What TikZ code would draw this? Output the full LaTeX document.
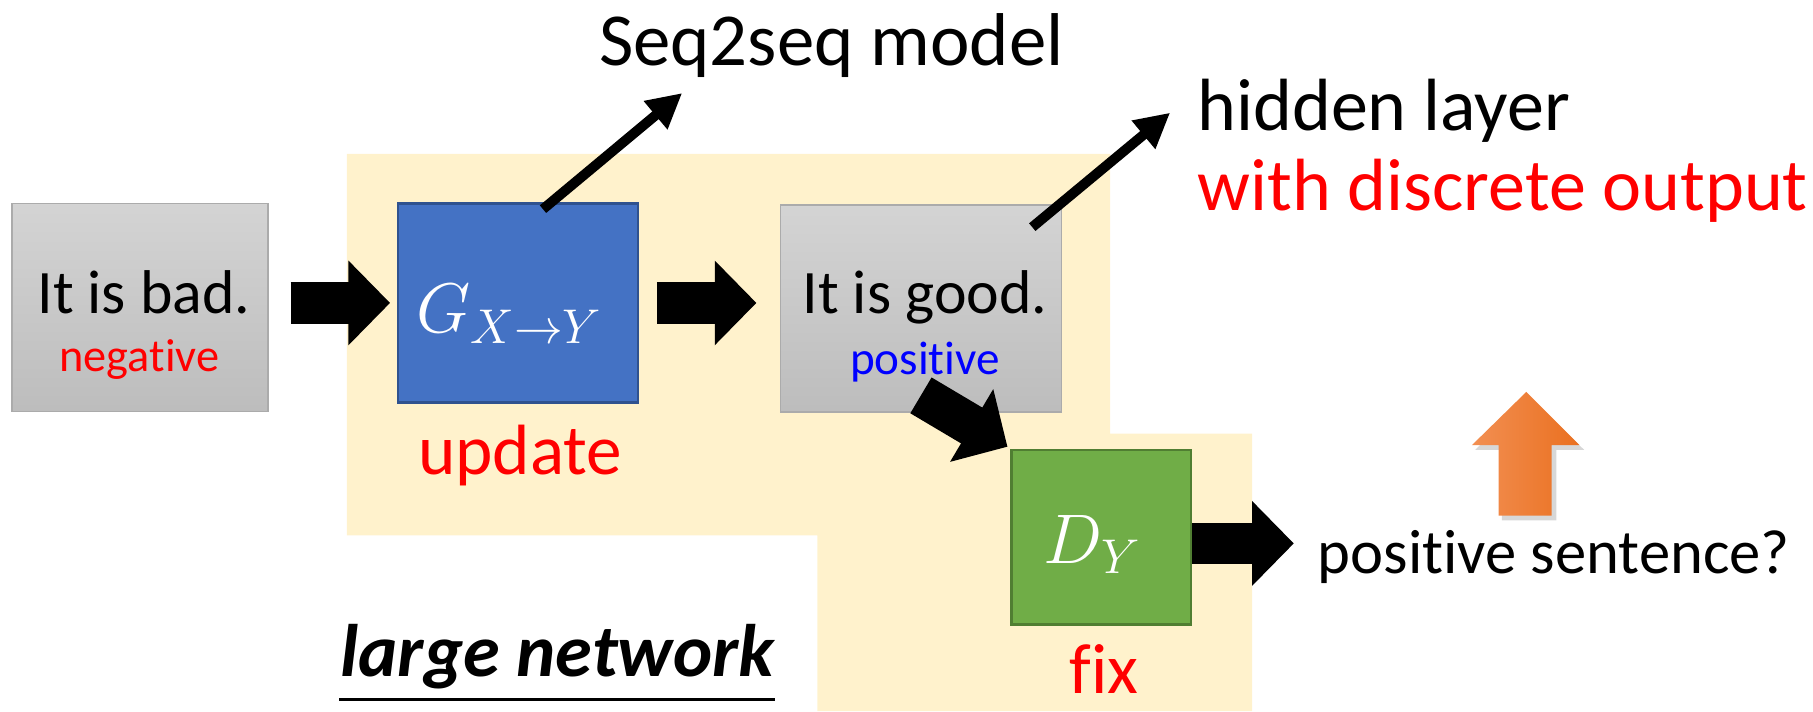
\documentclass[tikz,border=0pt]{standalone}
\usepackage{fontspec}
\setmainfont{Carlito}[Ligatures=NoCommon]
\usetikzlibrary{arrows.meta}

\definecolor{fixyellow}{HTML}{FFF2CC}
\definecolor{genblue}{HTML}{4472C4}
\definecolor{genblueline}{HTML}{2F528F}
\definecolor{disgreen}{HTML}{70AD47}
\definecolor{disgreenline}{HTML}{507E32}
\definecolor{upleft}{HTML}{F28F52}
\definecolor{upright}{HTML}{EA7020}

\begin{document}
\begin{tikzpicture}[x=0.01cm,y=0.01cm,
	txt/.style={inner sep=0,anchor=base},
	sentbox/.style={draw=black!33,top color=black!17,bottom color=black!26,inner sep=0},
	fatarrow/.style={line width=0.36cm,-{Triangle[length=0.36cm,width=0.71cm]}},
	thinarrow/.style={line width=0.086cm,-{Triangle[length=0.30cm,width=0.30cm]}}]
	\useasboundingbox (0,0) rectangle (1568,615);
	% large network region
	\fill[fixyellow] (300,482) -- (960,482) -- (960,240) -- (1083,240) -- (1083,0) -- (707,0) -- (707,152) -- (300,152) -- cycle;
	
	\node[sentbox,minimum width=2.21cm,minimum height=1.80cm](bad) at (121,349){};
	\node[txt,font=\fontsize{15.2}{18}\selectfont](badtxt) at (124.5,344){It is bad.};
	\node[txt,text=red,font=\fontsize{11.4}{14}\selectfont](badlbl) at (120.4,293.6){negative};
	
	\node[draw=genblueline,line width=0.6pt,fill=genblue,minimum width=2.07cm,minimum height=1.72cm](G) at (448,353){};
	\node[txt,text=white,font=\fontsize{17.5}{20}\selectfont](Gtxt) at (441,327){$G_{X\rightarrow Y}$};
	\node[txt,text=red,font=\fontsize{17.5}{21}\selectfont](upd) at (450,205){update};
	
	\node[sentbox,minimum width=2.43cm,minimum height=1.79cm](good) at (796.5,348.3){};
	\node[txt,font=\fontsize{15.2}{18}\selectfont](goodtxt) at (800,344){It is good.};
	\node[txt,text=blue,font=\fontsize{11.6}{14}\selectfont](goodlbl) at (800,291){positive};
	
	\node[draw=disgreenline,line width=0.6pt,fill=disgreen,minimum width=1.55cm,minimum height=1.51cm](D) at (952.5,150.5){};
	\node[txt,text=white,font=\fontsize{17.5}{20}\selectfont](Dtxt) at (945,128){$D_Y$};
	\node[txt,text=red,font=\fontsize{17.5}{21}\selectfont](fix) at (955,15){fix};
	
	\node[txt,font=\fontsize{18.4}{22}\selectfont](s2s) at (719,558){Seq2seq model};
	\node[txt,anchor=base west,font=\fontsize{18.2}{22}\selectfont](hid) at (1035,502){hidden layer};
	\node[txt,anchor=base west,text=red,font=\fontsize{18.2}{22}\selectfont](disc) at (1035,433){with discrete output};
	\node[txt,anchor=base west,font=\fontsize{15.4}{18}\selectfont](ans) at (1139,119){positive sentence?};
	
	\node[txt,font=\bfseries\itshape\fontsize{18.3}{22}\selectfont](lnet) at (482,30){large network};
	\draw[line width=0.023cm]([yshift=-0.2cm]lnet.base west)--([yshift=-0.2cm]lnet.base east);
	
	\coordinate(s2stip) at (590,534.5);
	\coordinate(hidtip) at (1012,517.5);
	\coordinate(anstip) at (1119,145);
	\draw[fatarrow,shorten <=0.19cm,shorten >=0.06cm](bad.east |- G.west)--(G.west);
	\draw[fatarrow,shorten <=0.155cm,shorten >=0.2cm](G.east)--(G.east -| good.west);
	\draw[fatarrow,shorten >=0.03cm]([yshift=0.15cm]good.south)--(D.north west);
	\draw[fatarrow](D.east |- anstip)--(anstip);
	\draw[thinarrow]([xshift=0.216cm,yshift=-0.06cm]G.north)--(s2stip);
	\draw[thinarrow]([xshift=-0.26cm,yshift=-0.2cm]good.north east)--(hidtip);
	
	% score goes up
	\fill[black!45,opacity=0.35] (1299,165) -- (1346,165) -- (1346,226) -- (1370,226) -- (1323,272) -- (1276,226) -- (1299,226) -- cycle;
	\shade[left color=upleft,right color=upright] (1296,169) -- (1342,169) -- (1342,230) -- (1366,230) -- (1320,276) -- (1273,230) -- (1296,230) -- cycle;
\end{tikzpicture}
\end{document}
